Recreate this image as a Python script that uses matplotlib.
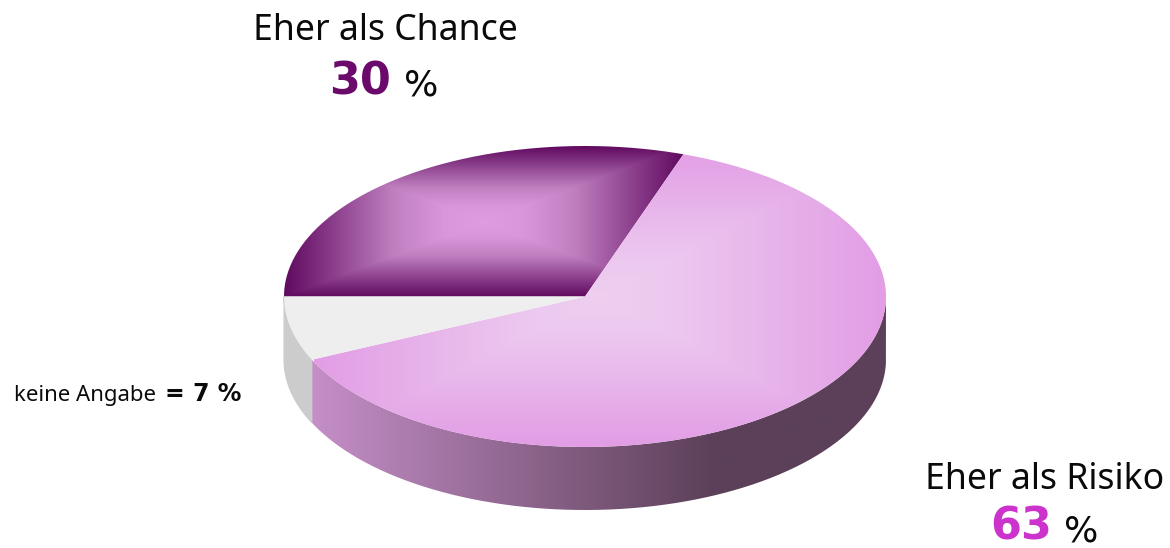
import numpy as np
import matplotlib
matplotlib.use("Agg")
import matplotlib.pyplot as plt
from matplotlib.path import Path
from matplotlib.patches import PathPatch
from matplotlib.colors import LinearSegmentedColormap as LSC

categories = ["Eher als Chance", "Eher als Risiko", "keine Angabe"]
shares = [30, 63, 7]            # printed labels
slice_shares = [30.3, 62.8, 6.9]  # slice sizes

CX, CY, RX, RY, DEPTH = 585, 296.5, 301, 150.5, 63
W, H = 1170, 548

plt.rcParams['font.family'] = ['Noto Sans', 'DejaVu Sans']
fig = plt.figure(figsize=(W/100, H/100), dpi=100)
ax = fig.add_axes([0, 0, 1, 1])
ax.set_xlim(0, W); ax.set_ylim(H, 0); ax.axis("off")

def pt(a, dy=0):
    return CX + RX*np.cos(a), CY + dy - RY*np.sin(a)

def top_path(a0, a1):
    t = np.linspace(a0, a1, 300)
    x, y = pt(t)
    return Path(np.r_[[[CX, CY]], np.c_[x, y], [[CX, CY]]])

def side_path(a0, a1):
    t = np.linspace(a0, a1, 300)
    x, y = pt(t)
    x2, y2 = pt(t[::-1], DEPTH)
    return Path(np.r_[np.c_[x, y], np.c_[x2, y2], [[x[0], y[0]]]])

def fill(path, arr, cmap, extent, z=2):
    im = ax.imshow(arr, cmap=cmap, extent=extent, vmin=0, vmax=1,
                   aspect="auto", interpolation="bilinear", zorder=z)
    p = PathPatch(path, fc="none", ec="none", transform=ax.transData)
    ax.add_patch(p)
    im.set_clip_path(p)
    ax.set_xlim(0, W); ax.set_ylim(H, 0)

# angles: clockwise starting at the left edge
fr = np.cumsum([0] + slice_shares) / sum(slice_shares)
ang = np.pi - 2*np.pi*fr
xx, yy = np.meshgrid(np.linspace(-1, 1, 400), np.linspace(-1, 1, 300))
pillow = np.maximum(np.abs(xx), np.abs(yy))

# side walls
gx = np.linspace(0, 1, 400)[None, :]
cm3 = LSC.from_list("s", [(0, "#C58FC8"), (0.70, "#5C4059"), (1, "#5C4059")])
fill(side_path(ang[2], 0), gx, cm3, (310, 886, 520, 290), z=1)
ax.add_patch(PathPatch(side_path(-np.pi, ang[2]), fc="#CCCCCC", ec="#CCCCCC", lw=0.8, zorder=1.5))

# top faces
cm1 = LSC.from_list("c", [(0, "#E09CE0"), (0.2, "#DA96DA"), (0.45, "#C080C0"), (1, "#600A60")])
fill(top_path(ang[0], ang[1]), pillow, cm1, (284, 684, 297, 146))
cm2 = LSC.from_list("r", [(0, "#EECFF0"), (0.25, "#ECC8EF"), (1, "#E29DE5")])
fill(top_path(ang[1], ang[2]), pillow, cm2, (314, 886, 447, 146))
ax.add_patch(PathPatch(top_path(ang[2], ang[3]), fc="#EEEEEE", ec="none", zorder=2))

DARK = "#0A0A0A"
ax.text(385, 31, categories[0], fontsize=25.6, ha="center", va="center", color=DARK)
ax.text(360, 82, str(shares[0]), fontsize=32, fontweight="bold", family="DejaVu Sans", ha="center", va="center", color="#6C0A6C")
ax.text(421, 85, "%", fontsize=26, family="DejaVu Sans", ha="center", va="center", color=DARK)
ax.text(1045, 480, categories[1], fontsize=25.6, ha="center", va="center", color=DARK)
ax.text(1021, 527, str(shares[1]), fontsize=32, fontweight="bold", family="DejaVu Sans", ha="center", va="center", color="#CC33CC")
ax.text(1081, 532, "%", fontsize=26, family="DejaVu Sans", ha="center", va="center", color=DARK)
ax.text(14, 395, categories[2], fontsize=16, ha="left", va="center", color=DARK)
ax.text(165, 394, f"= {shares[2]} %", fontsize=17, fontweight="bold", family="DejaVu Sans", ha="left", va="center", color=DARK)

fig.savefig("out.png", dpi=100, facecolor="white")
